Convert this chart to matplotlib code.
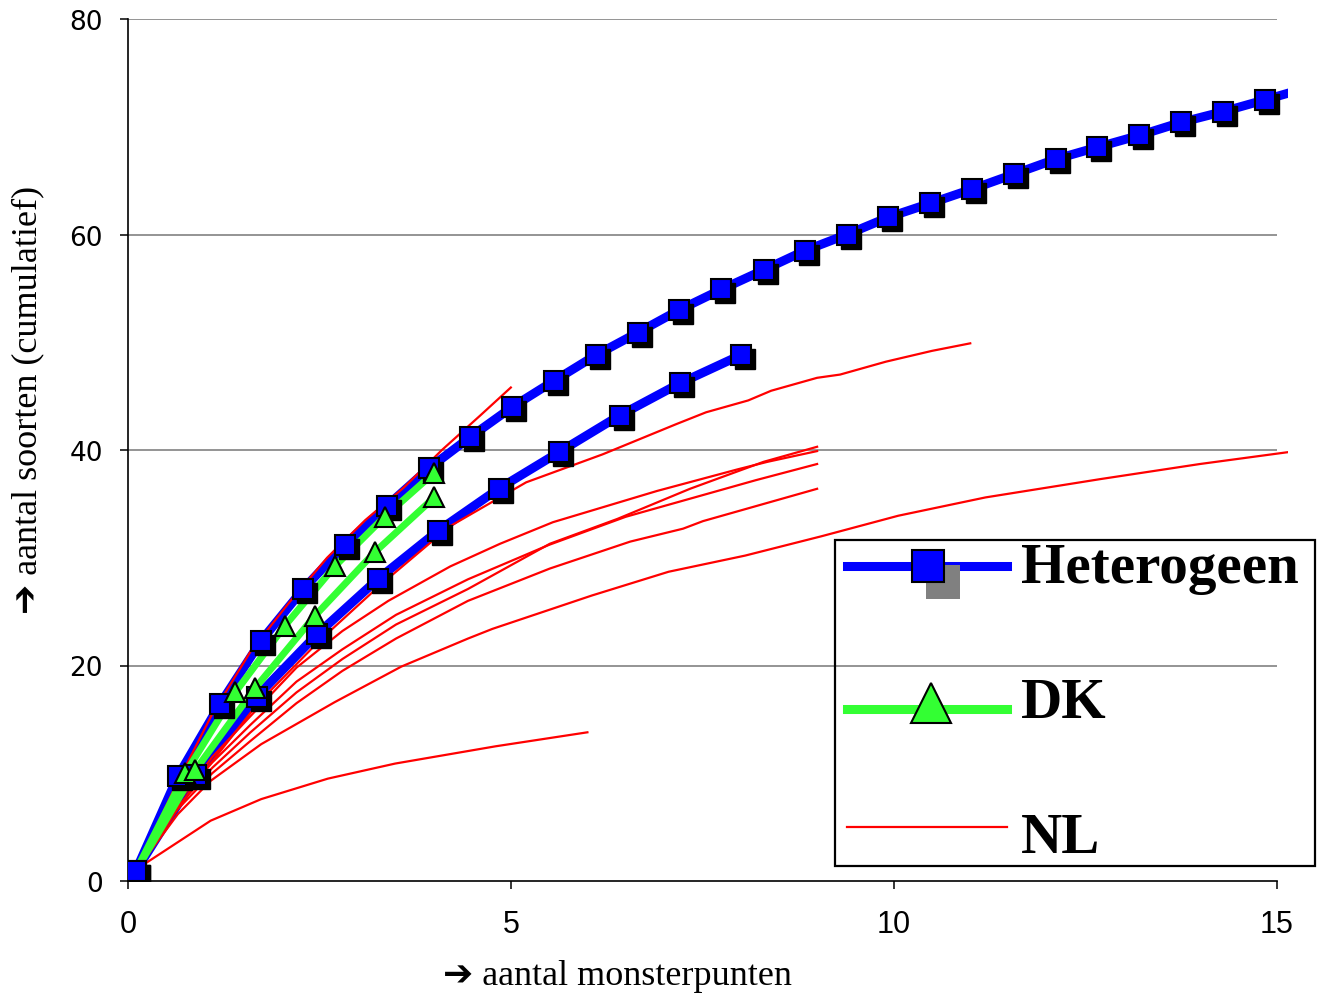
import matplotlib.pyplot as plt
from matplotlib.lines import Line2D
from matplotlib.patches import Rectangle
from matplotlib.transforms import offset_copy

# Heterogeen (two series with square markers)
het1_x = [0.10, 0.65, 1.20, 1.74, 2.29, 2.83, 3.38, 3.93, 4.47, 5.02, 5.56, 6.11, 6.66, 7.20, 7.75,
          8.30, 8.84, 9.39, 9.93, 10.48, 11.02, 11.57, 12.12, 12.66, 13.21, 13.75, 14.30, 14.85, 15.39]
het1_y = [0.9, 9.7, 16.4, 22.3, 27.1, 31.2, 34.8, 38.3, 41.2, 44.0, 46.4, 48.8, 50.9, 53.0, 54.9,
          56.7, 58.5, 60.0, 61.6, 62.9, 64.2, 65.6, 67.0, 68.1, 69.2, 70.4, 71.4, 72.5, 73.6]
het2_x = [0.10, 0.89, 1.68, 2.47, 3.26, 4.05, 4.84, 5.63, 6.42, 7.21, 8.00]
het2_y = [0.9, 9.8, 17.1, 22.9, 28.0, 32.5, 36.4, 39.8, 43.2, 46.2, 48.8]

# DK (two series with triangle markers)
dk1_x = [0.10, 0.75, 1.40, 2.05, 2.70, 3.35, 4.00]
dk1_y = [0.9, 10.0, 17.5, 23.7, 29.2, 33.8, 37.9]
dk2_x = [0.10, 0.88, 1.66, 2.44, 3.22, 4.00]
dk2_y = [0.9, 10.3, 17.9, 24.6, 30.5, 35.6]

# NL (thin red lines)
nl_a_x = [0.1, 0.6, 1.1, 1.6, 2.1, 2.6, 3.1, 3.6, 4.1, 4.6, 5.0]
nl_a_y = [0.9, 8.5, 15.5, 21.3, 25.8, 30.0, 33.5, 36.5, 40.0, 43.2, 45.8]
nl_b_x = [0.1, 0.9, 1.7, 2.5, 3.3, 4.2, 5.2, 6.2, 7.16, 7.55, 8.1, 8.4, 9.0, 9.3, 9.9, 10.5, 11.0]
nl_b_y = [0.9, 9.3, 16.5, 22.3, 27.5, 32.9, 37.0, 39.6, 42.4, 43.5, 44.6, 45.5, 46.7, 47.0, 48.2, 49.2, 49.9]
nl_c_x = [0.1, 0.6, 1.1, 1.6, 2.2, 2.8, 3.4, 4.21, 4.86, 5.55, 6.91, 7.96, 8.35, 9.0]
nl_c_y = [0.9, 6.8, 11.5, 15.3, 19.8, 23.2, 26.0, 29.2, 31.3, 33.3, 36.2, 38.2, 38.9, 39.9]
nl_d_x = [0.1, 0.6, 1.1, 1.6, 2.2, 2.8, 3.5, 4.44, 5.51, 6.39, 7.34, 8.3, 9.0]
nl_d_y = [0.9, 6.5, 10.5, 13.8, 17.5, 20.6, 23.8, 27.1, 31.3, 33.6, 36.4, 38.9, 40.3]
nl_e_x = [0.1, 0.6, 1.1, 1.6, 2.2, 2.8, 3.5, 4.44, 5.5, 6.5, 7.3, 8.2, 9.0]
nl_e_y = [0.9, 7.0, 11.0, 14.5, 18.5, 21.5, 24.7, 28.0, 31.2, 33.8, 35.4, 37.2, 38.7]
nl_f_x = [0.1, 0.6, 1.1, 1.6, 2.2, 2.8, 3.5, 4.44, 5.51, 6.56, 7.25, 7.51, 9.0]
nl_f_y = [0.9, 6.3, 10.0, 13.0, 16.5, 19.5, 22.5, 26.0, 29.0, 31.5, 32.7, 33.4, 36.4]
nl_g_x = [0.1, 0.65, 1.08, 1.74, 2.7, 3.57, 4.44, 4.76, 6.06, 7.06, 8.06, 9.06, 10.06, 11.2, 12.7, 14.0, 15.15]
nl_g_y = [0.9, 6.2, 9.3, 12.7, 16.6, 19.9, 22.5, 23.4, 26.5, 28.7, 30.2, 32.0, 33.9, 35.6, 37.3, 38.7, 39.8]
nl_h_x = [0.1, 0.22, 0.65, 1.08, 1.74, 2.61, 3.49, 4.8, 6.0]
nl_h_y = [0.9, 1.6, 3.6, 5.6, 7.6, 9.5, 10.9, 12.5, 13.8]

het_series = [(het1_x, het1_y), (het2_x, het2_y)]
dk_series = [(dk1_x, dk1_y), (dk2_x, dk2_y)]
nl_series = [(nl_a_x, nl_a_y), (nl_b_x, nl_b_y), (nl_c_x, nl_c_y), (nl_d_x, nl_d_y),
             (nl_e_x, nl_e_y), (nl_f_x, nl_f_y), (nl_g_x, nl_g_y), (nl_h_x, nl_h_y)]

legend_labels = ['Heterogeen', 'DK', 'NL']
x_ticks = [0, 5, 10, 15]
y_ticks = [0, 20, 40, 60, 80]

BLUE = '#0000ff'
GREEN = '#33ff33'
RED = '#ff0000'
LABEL_FONT = ['Liberation Serif', 'DejaVu Sans']

W, H = 1324, 995
fig = plt.figure(figsize=(W / 100, H / 100), dpi=100)
ax = fig.add_axes([128 / W, 1 - 882 / H, 1160 / W, 862 / H])
ax.set_xlim(0, 15.15)
ax.set_ylim(0, 80)

ax.hlines(y_ticks[1:], 0, 15, color='#777777', lw=1.1, zorder=1)
for s in ['top', 'right']:
    ax.spines[s].set_visible(False)
ax.spines['bottom'].set_bounds(0, 15)
ax.spines['left'].set_linewidth(1.2)
ax.spines['bottom'].set_linewidth(1.2)

ax.set_xticks(x_ticks)
ax.set_yticks(y_ticks)
ax.tick_params(axis='both', direction='out', length=6, width=1.1, color='black')
ax.tick_params(axis='y', pad=12)
ax.tick_params(axis='x', pad=14)
for lab in ax.get_yticklabels():
    lab.set_fontfamily('DejaVu Sans')
    lab.set_fontsize(19)
for lab in ax.get_xticklabels():
    lab.set_fontfamily('Liberation Sans')
    lab.set_fontsize(22)

shadow = offset_copy(ax.transData, fig=fig, x=4, y=-4, units='dots')

for x, y in het_series:
    ax.plot(x, y, color=BLUE, lw=6.5, zorder=2, solid_joinstyle='round')
for x, y in nl_series:
    ax.plot(x, y, color=RED, lw=1.6, zorder=3)
for x, y in dk_series:
    ax.plot(x, y, color=GREEN, lw=5, zorder=4, solid_joinstyle='round')
for x, y in het_series:
    ax.plot(x, y, ls='none', marker='s', ms=14, mfc='black', mec='black', transform=shadow, zorder=5)
    ax.plot(x, y, ls='none', marker='s', ms=14, mfc=BLUE, mec='black', mew=1.5, zorder=6)
for x, y in dk_series:
    ax.plot(x, y, ls='none', marker='^', ms=14, mfc=GREEN, mec='black', mew=1.5,
            markevery=slice(1, None), zorder=7)

# axis titles
fig.text(617 / W, 1 - 985 / H, '➔ aantal monsterpunten', ha='center', va='baseline',
         fontsize=26, family=LABEL_FONT)
fig.text(28 / W, 1 - 400 / H, '➔ aantal soorten (cumulatief)', ha='center', va='center',
         rotation=90, fontsize=26, family=LABEL_FONT)


# legend drawn by hand (pixel positions)
def fx(px):
    return px / W


def fy(py):
    return 1 - py / H


tf = fig.transFigure
fig.add_artist(Rectangle((fx(835), fy(867)), fx(1315) - fx(835), fy(541) - fy(867),
                         transform=tf, fill=False, ec='black', lw=1.6, zorder=10))
fig.add_artist(Line2D([fx(847), fx(1007)], [fy(566.5), fy(566.5)], color=BLUE, lw=6.5,
                      transform=tf, zorder=11))
fig.add_artist(Rectangle((fx(926), fy(600)), 34 / W, 34 / H, transform=tf,
                         fc='#808080', ec='none', zorder=12))
fig.add_artist(Line2D([fx(927.5)], [fy(567)], marker='s', ms=23, mfc=BLUE, mec='black',
                      mew=1.5, transform=tf, zorder=13))
fig.add_artist(Line2D([fx(847), fx(1007)], [fy(710), fy(710)], color=GREEN, lw=6.5,
                      transform=tf, zorder=11))
fig.add_artist(Line2D([fx(931)], [fy(704)], marker='^', ms=29, mfc=GREEN, mec='black',
                      mew=1.5, transform=tf, zorder=13))
fig.add_artist(Line2D([fx(847), fx(1007)], [fy(828), fy(828)], color=RED, lw=1.6,
                      transform=tf, zorder=11))
for label, base in zip(legend_labels, [583, 718, 853]):
    fig.text(fx(1021), fy(base), label, ha='left', va='baseline', fontsize=41,
             fontweight='bold', family='Liberation Serif', zorder=12)

fig.savefig('out.png', dpi=100)
